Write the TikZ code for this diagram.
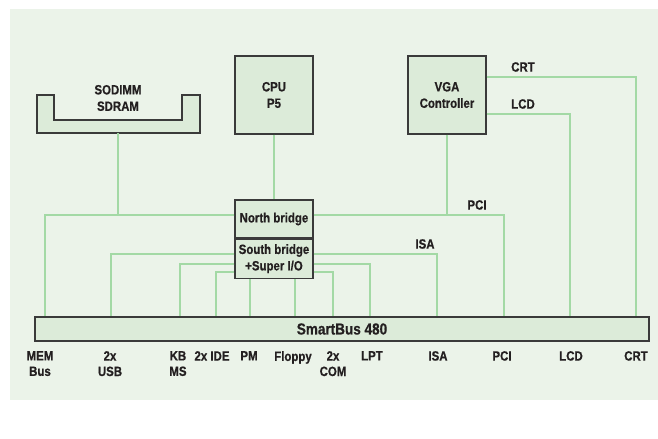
\documentclass[tikz,border=0pt]{standalone}
\usepackage{fontspec}
\setmainfont{Liberation Sans}[FakeStretch=0.85, BoldFeatures={FakeBold=0.6}]
\usetikzlibrary{positioning}

\definecolor{paper}{HTML}{EBF3E9}
\definecolor{chipfill}{HTML}{DCEBD9}
\definecolor{wirecol}{HTML}{A3D9A5}
\definecolor{edge}{HTML}{3A3A3A}
\definecolor{ink}{HTML}{231F20}

\begin{document}
\begin{tikzpicture}[
        x=1bp, y=-1bp,
        every node/.style = {font=\bfseries\fontsize{13.5}{16.5}\selectfont, text=ink},
        chip/.style = {draw=edge, fill=chipfill, line width=1.2bp, align=center, inner sep=0pt,
                minimum width=78bp, minimum height=78bp}, % boxes
        wire/.style = {draw=wirecol, line width=1.2bp},
        lbl/.style = {align=center, anchor=north, inner sep=0pt,
                font=\bfseries\fontsize{13.5}{15.5}\selectfont},
    ]
    \useasboundingbox (0,0) rectangle (658,439);
    \fill[paper] (10,9) rectangle (658,400);

    % memory slot
    \filldraw[draw=edge, fill=chipfill, line width=1.2bp]
        (37,95) -- (54,95) -- (54,120) -- (182,120) -- (182,95) -- (200,95) -- (200,133) -- (37,133) -- cycle;
    \node[align=center] (sodimm) at (118,98) {SODIMM\\SDRAM};
    \coordinate (sodimm-out) at (118,133);

    \node[chip] (cpu) at (274,95) {CPU\\P5};
    \node[chip] (vga) at (447,95) {VGA\\Controller};
    \node[chip, minimum height=38bp] (nb) at (274,219) {North bridge};
    \node[chip, minimum height=39bp, below=0pt of nb] (sb) {South bridge\\+Super I/O};
    \node[chip, minimum width=614bp, minimum height=24bp,
        font=\bfseries\fontsize{16}{18}\selectfont] (bus) at (342,329) {SmartBus 480};

    % taps on the bus
    \foreach \n/\x in {mem/45, usb/111, kb/180, ide/216, pm/250, fdd/295,
            com/333, lpt/370, isa/437, pci/504, lcd/570, crt/636}
        \coordinate (t-\n) at (bus.north -| \x,0);

    % connectors
    \draw[wire] (cpu.south) -- (nb.north);
    \draw[wire] (sodimm-out) -- (sodimm-out |- 0,215);
    \draw[wire] (nb.west |- 0,215) -| (t-mem);
    \draw[wire] (nb.east |- 0,215) -| (t-pci);
    \draw[wire] (vga.south) -- (vga.south |- 0,215);
    \draw[wire] (vga.east |- 0,77) -| (t-crt);
    \draw[wire] (vga.east |- 0,114) -| (t-lcd);
    \draw[wire] (sb.west |- 0,254) -| (t-usb);
    \draw[wire] (sb.west |- 0,264) -| (t-kb);
    \draw[wire] (sb.west |- 0,272) -| (t-ide);
    \draw[wire] (sb.south -| 250,0) -- (t-pm);
    \draw[wire] (sb.south -| 295,0) -- (t-fdd);
    \draw[wire] (sb.east |- 0,254) -| (t-isa);
    \draw[wire] (sb.east |- 0,264) -| (t-lpt);
    \draw[wire] (sb.east |- 0,272) -| (t-com);

    % line names
    \node (crt-name) at (523,67) {CRT};
    \node (lcd-name) at (523,104) {LCD};
    \node (pci-name) at (477,205) {PCI};
    \node (isa-name) at (425,244) {ISA};

    % bus labels
    \node[lbl] (l-mem) at (40,351) {MEM\\Bus};
    \node[lbl] (l-usb) at (110,351) {2x\\USB};
    \node[lbl] (l-kb) at (178,351) {KB\\MS};
    \node[lbl] (l-ide) at (212,351) {2x IDE};
    \node[lbl] (l-pm) at (249,351) {PM};
    \node[lbl] (l-fdd) at (293,351) {Floppy};
    \node[lbl] (l-com) at (333,351) {2x\\COM};
    \node[lbl] (l-lpt) at (372,351) {LPT};
    \node[lbl] (l-isa) at (438,351) {ISA};
    \node[lbl] (l-pci) at (502,351) {PCI};
    \node[lbl] (l-lcd) at (571,351) {LCD};
    \node[lbl] (l-crt) at (636,351) {CRT};
\end{tikzpicture}
\end{document}
